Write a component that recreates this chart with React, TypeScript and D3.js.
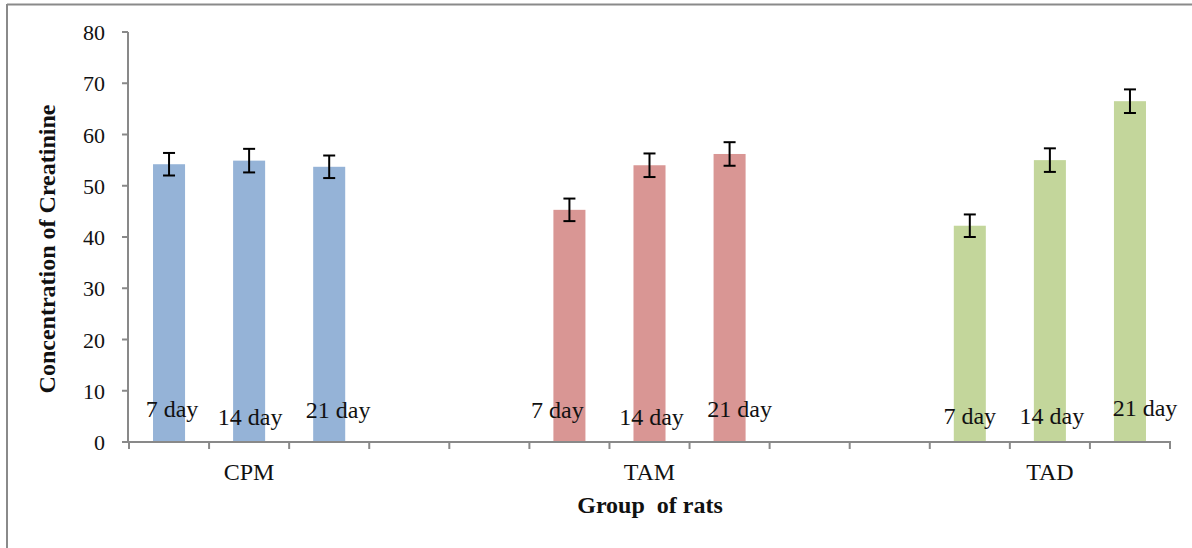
import React from 'react';
import * as d3 from 'd3';

const groups = ['CPM', 'TAM', 'TAD'];
const days = ['7 day', '14 day', '21 day'];
const colors = ['#95b3d7', '#d99694', '#c3d69b'];
// mean creatinine per group, per day
const cpmValues = [54.2, 54.9, 53.7];
const tamValues = [45.3, 54.0, 56.2];
const tadValues = [42.2, 55.0, 66.5];
const cpmErrors = [2.2, 2.3, 2.2];
const tamErrors = [2.2, 2.3, 2.3];
const tadErrors = [2.2, 2.3, 2.3];
const yTicks = [0, 10, 20, 30, 40, 50, 60, 70, 80];

// the day labels sit as loose text boxes in the original
const labelShift = [
  [[3, -25], [1, -17], [9, -24]],
  [[-12, -24], [2, -17], [10, -25]],
  [[0, -18], [2, -18], [15, -26]],
];

const W = 1192;
const H = 548;
const margin = {left: 129, right: 22, top: 32, bottom: 106};

export default function App() {
  const values = [cpmValues, tamValues, tadValues];
  const errors = [cpmErrors, tamErrors, tadErrors];

  // 13 slots: 3 bars per group with 2 empty slots between groups
  const slots: string[] = [];
  groups.forEach((g, gi) => {
    days.forEach((d) => slots.push(g + '|' + d));
    if (gi < groups.length - 1) {
      slots.push('gap' + gi + 'a');
      slots.push('gap' + gi + 'b');
    }
  });

  const x = d3
    .scaleBand()
    .domain(slots)
    .range([margin.left, W - margin.right])
    .paddingInner(0)
    .paddingOuter(0);
  const y = d3
    .scaleLinear()
    .domain([0, 80])
    .range([H - margin.bottom, margin.top]);

  const bw = x.bandwidth() * 0.4;
  const y0 = y(0);
  const axisColor = '#898989';
  const font = '"Liberation Serif", "Times New Roman", serif';

  const boundaries = slots.map((s) => x(s) as number).concat([W - margin.right]);

  return (
    <div style={{position: 'absolute', left: 0, top: 0}}>
      <svg width={W} height={H} style={{display: 'block', background: '#fff'}} fontFamily={font}>
        {/* frame */}
        <line x1={7} x2={W} y1={4.5} y2={4.5} stroke="#8a8a8a" strokeWidth={2} />
        <line x1={7} x2={7} y1={4} y2={H} stroke="#8a8a8a" strokeWidth={2} />

        {/* bars */}
        {groups.map((g, gi) =>
          days.map((d, di) => {
            const cx = (x(g + '|' + d) as number) + x.bandwidth() / 2;
            const v = values[gi][di];
            const e = errors[gi][di];
            return (
              <g key={g + d}>
                <rect
                  x={cx - bw / 2}
                  y={y(v)}
                  width={bw}
                  height={y0 - y(v)}
                  fill={colors[gi]}
                />
                <line x1={cx} x2={cx} y1={y(v + e)} y2={y(v - e)} stroke="#000" strokeWidth={2} />
                <line x1={cx - 6} x2={cx + 6} y1={y(v + e)} y2={y(v + e)} stroke="#000" strokeWidth={2} />
                <line x1={cx - 6} x2={cx + 6} y1={y(v - e)} y2={y(v - e)} stroke="#000" strokeWidth={2} />
              </g>
            );
          })
        )}

        {/* y axis */}
        <line x1={margin.left - 1} x2={margin.left - 1} y1={y(80)} y2={y0} stroke={axisColor} strokeWidth={2} />
        {yTicks.map((t) => (
          <g key={t}>
            <line x1={margin.left - 7} x2={margin.left - 1} y1={y(t)} y2={y(t)} stroke={axisColor} strokeWidth={2} />
            <text x={105} y={y(t) + 8} textAnchor="end" fontSize={22} fill="#111">
              {t}
            </text>
          </g>
        ))}

        {/* x axis */}
        <line x1={margin.left - 2} x2={W - margin.right + 1} y1={y0} y2={y0} stroke={axisColor} strokeWidth={2} />
        {boundaries.map((bx, i) => (
          <line key={i} x1={bx} x2={bx} y1={y0} y2={y0 + 7} stroke={axisColor} strokeWidth={2} />
        ))}

        {/* day labels */}
        {groups.map((g, gi) =>
          days.map((d, di) => {
            const cx = (x(g + '|' + d) as number) + x.bandwidth() / 2;
            const [dx, dy] = labelShift[gi][di];
            return (
              <text key={'l' + g + d} x={cx + dx} y={y0 + dy} textAnchor="middle" fontSize={24} fill="#111">
                {d}
              </text>
            );
          })
        )}

        {/* group labels */}
        {groups.map((g) => (
          <text
            key={'g' + g}
            x={(x(g + '|' + days[1]) as number) + x.bandwidth() / 2}
            y={480}
            textAnchor="middle"
            fontSize={24}
            fill="#111"
          >
            {g}
          </text>
        ))}

        {/* axis titles */}
        <text x={650} y={513} textAnchor="middle" fontSize={24} fontWeight="bold" fill="#111" style={{whiteSpace: 'pre'}}>
          {'Group  of rats'}
        </text>
        <text
          transform={`translate(55, 249) rotate(-90)`}
          textAnchor="middle"
          fontSize={24}
          fontWeight="bold"
          fill="#111"
        >
          Concentration of Creatinine
        </text>
      </svg>
    </div>
  );
}
